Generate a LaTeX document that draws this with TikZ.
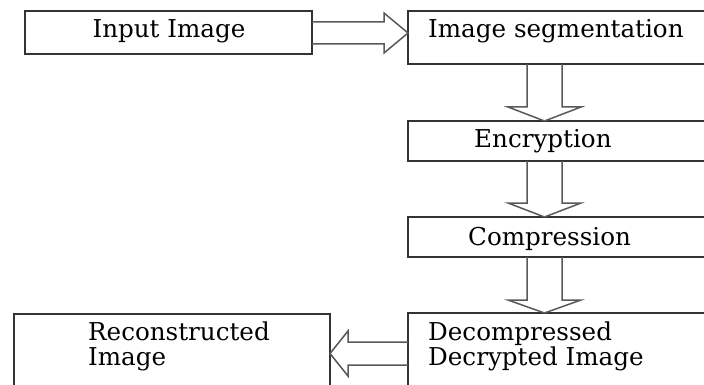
\documentclass[tikz,border=0pt]{standalone}
\usepackage{fontspec}
\setmainfont{DejaVu Serif}
\usetikzlibrary{calc,positioning}

\tikzset{
  box/.style={draw=black!80, line width=1.3pt, anchor=north west, inner sep=0pt, outer sep=0pt},
  lbl/.style={font=\fontsize{24.6}{25}\selectfont, inner sep=0pt, anchor=base west, align=left},
  fat/.style={draw=black!65, line width=1.5pt, line join=miter},
}

% hollow block arrows: #1 shaft start, #2 tip, #3 half shaft, #4 half head, #5 head length
\newcommand{\fatside}[5]{%
  \draw[fat] let \p1=(#1), \p2=(#2) in
    (\x1,{\y2+#3pt}) -- ({\x2-(#5pt)},{\y2+#3pt}) -- ({\x2-(#5pt)},{\y2+#4pt})
    -- (\x2,\y2) -- ({\x2-(#5pt)},{\y2-#4pt}) -- ({\x2-(#5pt)},{\y2-#3pt}) -- (\x1,{\y2-#3pt});
}
\newcommand{\fatdown}[5]{%
  \draw[fat] let \p1=(#1), \p2=(#2) in
    ({\x2-#3pt},\y1) -- ({\x2-#3pt},{\y2+#5pt}) -- ({\x2-#4pt},{\y2+#5pt})
    -- (\x2,\y2) -- ({\x2+#4pt},{\y2+#5pt}) -- ({\x2+#3pt},{\y2+#5pt}) -- ({\x2+#3pt},\y1);
}

\begin{document}
\begin{tikzpicture}[x=1pt, y=-1pt]
    \useasboundingbox (0,0) rectangle (704,385);

    % Boxes
    \node[box, minimum width=287pt, minimum height=43pt] (inp) at (25,11) {};
    \node[box, minimum width=320pt, minimum height=53pt] (seg) at (408,11) {};
    \node[box, minimum width=320pt, minimum height=40pt] (enc) at (408,121) {};
    \node[box, minimum width=320pt, minimum height=40pt] (cmp) at (408,217) {};
    \node[box, minimum width=320pt, minimum height=100pt] (dec) at (408,313) {};
    \node[box, minimum width=316pt, minimum height=100pt] (rec) at (14,314) {};

    % Texts (two-line ones sit on their last baseline)
    \node[lbl, anchor=base] (tinp) at (169,38) {Input Image};
    \node[lbl] (tseg) at (428,38) {Image segmentation};
    \node[lbl] (tenc) at (474,148) {Encryption};
    \node[lbl] (tcmp) at (468,245) {Compression};
    \node[lbl] (tdec) at (428,365) {Decompressed\\Decrypted Image};
    \node[lbl] (trec) at (88,365) {Reconstructed\\Image};

    % Arrows
    \coordinate (row) at (0,33);
    \coordinate (low) at (0,353.5);
    \coordinate (col) at (544.5,0);
    \fatside{inp.east |- row}{seg.west |- row}{11}{20}{24}
    \fatdown{seg.south -| col}{enc.north -| col}{17.5}{36.5}{14}
    \fatdown{enc.south -| col}{cmp.north -| col}{17.5}{36.5}{14}
    \fatdown{cmp.south -| col}{dec.north -| col}{17.5}{36.5}{13}
    \fatside{dec.west |- low}{rec.east |- low}{11.5}{22.5}{-18}
\end{tikzpicture}
\end{document}
